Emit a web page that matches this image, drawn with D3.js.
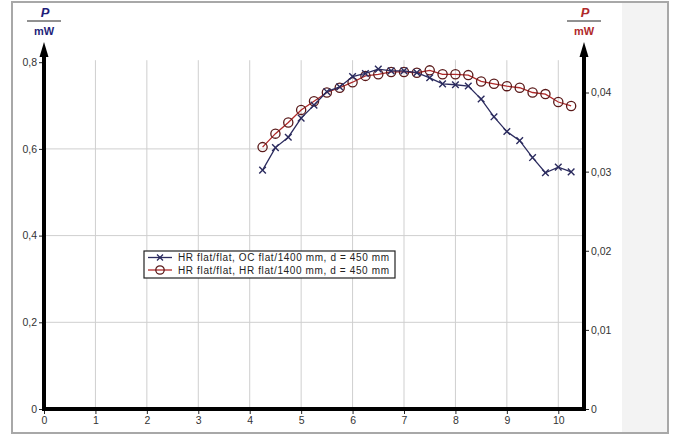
<!DOCTYPE html>
<html>
<head>
<meta charset="utf-8">
<script src="https://cdn.jsdelivr.net/npm/d3@7"></script>
<style>
  html, body { margin: 0; padding: 0; background: #fff; }
  svg { display: block; font-family: "Liberation Sans", Arial, sans-serif; }
</style>
</head>
<body>
<svg id="chart" width="674" height="437"></svg>
<script>
// Distance axis (x) and the two power readings
const xTicks = [0, 1, 2, 3, 4, 5, 6, 7, 8, 9, 10];
const leftTicks = [0, 0.2, 0.4, 0.6, 0.8];
const rightTicks = [0, 0.01, 0.02, 0.03, 0.04];

const positions = [4.25, 4.5, 4.75, 5.0, 5.25, 5.5, 5.75, 6.0, 6.25, 6.5, 6.75, 7.0, 7.25,
                   7.5, 7.75, 8.0, 8.25, 8.5, 8.75, 9.0, 9.25, 9.5, 9.75, 10.0, 10.25];

// HR flat/flat, OC flat/1400 mm (left axis, mW)
const powerOC = [0.551, 0.603, 0.627, 0.671, 0.701, 0.732, 0.743, 0.767, 0.774, 0.784, 0.780, 0.780, 0.776,
                 0.764, 0.750, 0.748, 0.745, 0.715, 0.674, 0.640, 0.619, 0.580, 0.545, 0.558, 0.547];

// HR flat/flat, HR flat/1400 mm (right axis, mW)
const powerHR = [0.0331, 0.0348, 0.0362, 0.0378, 0.0389, 0.0400, 0.0406, 0.0413, 0.0421, 0.0423, 0.0426, 0.0426, 0.0425,
                 0.0428, 0.0423, 0.0423, 0.0422, 0.0414, 0.0411, 0.0408, 0.0406, 0.0400, 0.0398, 0.0388, 0.0383];

const legendLabels = ["HR flat/flat, OC flat/1400 mm, d = 450 mm",
                      "HR flat/flat, HR flat/1400 mm, d = 450 mm"];

const svg = d3.select("#chart");

const blue = "#1f1f7a", red = "#b02a2a";
const crossColor = "#2b2b5e", circleStroke = "#5a1a1a";

// frame and side panel
svg.append("rect").attr("x", 622).attr("y", 2).attr("width", 45).attr("height", 431).attr("fill", "#f3f3f3");
svg.append("rect").attr("x", 12).attr("y", 2).attr("width", 656).attr("height", 431)
  .attr("fill", "none").attr("stroke", "#a8a8a8").attr("stroke-width", 2);

const x = d3.scaleLinear().domain([0, 10.5]).range([44, 584]);
const yL = d3.scaleLinear().domain([0, 0.8]).range([409, 62.2]);
const yR = d3.scaleLinear().domain([0, 0.04383]).range([409, 62.2]);

const fmt = d => d === 0 ? "0" : String(d).replace(".", ",");

// grid
const grid = svg.append("g").attr("stroke", "#cfcfcf").attr("stroke-width", 1);
grid.selectAll("line.v").data(xTicks.filter(d => d > 0)).join("line")
  .attr("x1", d => x(d)).attr("x2", d => x(d)).attr("y1", yL(0.8) - 2).attr("y2", yL(0));
grid.selectAll("line.h").data(leftTicks.filter(d => d > 0 && d < 0.8)).join("line")
  .attr("x1", x(0)).attr("x2", x(10.5)).attr("y1", d => yL(d)).attr("y2", d => yL(d));

// axes
const axisStyle = g => {
  g.select(".domain").remove();
  g.selectAll(".tick line").attr("stroke", "#222").attr("stroke-width", 1);
  g.selectAll(".tick text").attr("fill", "#333").style("font-size", "10.5px")
    .style("font-family", "'Liberation Sans', Arial, sans-serif");
};
svg.append("g").attr("transform", `translate(0,${yL(0)})`)
  .call(d3.axisBottom(x).tickValues(xTicks).tickFormat(fmt).tickSize(5).tickPadding(3))
  .call(axisStyle);
svg.append("g").attr("transform", `translate(${x(0)},0)`)
  .call(d3.axisLeft(yL).tickValues(leftTicks).tickFormat(fmt).tickSize(5).tickPadding(2))
  .call(axisStyle);
svg.append("g").attr("transform", `translate(${x(10.5)},0)`)
  .call(d3.axisRight(yR).tickValues(rightTicks).tickFormat(fmt).tickSize(5).tickPadding(2))
  .call(axisStyle);

// heavy axis lines with arrows
svg.append("path")
  .attr("d", `M${x(0)},55 V${yL(0)} H${x(10.5)} V55`)
  .attr("fill", "none").attr("stroke", "#000").attr("stroke-width", 4).attr("stroke-linejoin", "miter");
[x(0), x(10.5)].forEach(cx => {
  svg.append("path").attr("d", `M${cx},42 L${cx - 4.5},57 L${cx + 4.5},57 Z`).attr("fill", "#000");
});

// unit labels
function unitLabel(cx, color) {
  const g = svg.append("g").attr("fill", color)
    .style("font-family", "'Liberation Sans', Arial, sans-serif").style("font-weight", "bold");
  g.append("text").attr("x", cx + 1).attr("y", 17).attr("text-anchor", "middle")
    .style("font-style", "italic").style("font-size", "13px").text("P");
  g.append("line").attr("x1", cx - 17).attr("x2", cx + 17).attr("y1", 21).attr("y2", 21)
    .attr("stroke", "#222").attr("stroke-width", 1);
  g.append("text").attr("x", cx).attr("y", 35).attr("text-anchor", "middle")
    .style("font-size", "11px").text("mW");
}
unitLabel(x(0), blue);
unitLabel(x(10.5), red);

// series
const ptsOC = positions.map((p, i) => [p, powerOC[i]]);
const ptsHR = positions.map((p, i) => [p, powerHR[i]]);

svg.append("path").datum(ptsHR)
  .attr("d", d3.line().x(d => x(d[0])).y(d => yR(d[1])))
  .attr("fill", "none").attr("stroke", red).attr("stroke-width", 1.3);
svg.append("g").selectAll("circle").data(ptsHR).join("circle")
  .attr("cx", d => x(d[0])).attr("cy", d => yR(d[1])).attr("r", 4.6)
  .attr("fill", "none").attr("stroke", circleStroke).attr("stroke-width", 1.3);

svg.append("path").datum(ptsOC)
  .attr("d", d3.line().x(d => x(d[0])).y(d => yL(d[1])))
  .attr("fill", "none").attr("stroke", crossColor).attr("stroke-width", 1.3);
const crossPath = (cx, cy, s) => `M${cx - s},${cy - s}L${cx + s},${cy + s}M${cx - s},${cy + s}L${cx + s},${cy - s}`;
svg.append("g").selectAll("path").data(ptsOC).join("path")
  .attr("d", d => crossPath(x(d[0]), yL(d[1]), 3.3))
  .attr("stroke", crossColor).attr("stroke-width", 1.4);

// legend
const lg = svg.append("g");
lg.append("rect").attr("x", 144).attr("y", 251).attr("width", 251).attr("height", 27)
  .attr("fill", "#fff").attr("stroke", "#222").attr("stroke-width", 1.2);
const rows = [257.5, 270];
lg.append("line").attr("x1", 148).attr("x2", 172).attr("y1", rows[0]).attr("y2", rows[0])
  .attr("stroke", crossColor).attr("stroke-width", 1.3);
lg.append("path").attr("d", crossPath(160, rows[0], 3)).attr("stroke", crossColor).attr("stroke-width", 1.3);
lg.append("line").attr("x1", 148).attr("x2", 172).attr("y1", rows[1]).attr("y2", rows[1])
  .attr("stroke", red).attr("stroke-width", 1.3);
lg.append("circle").attr("cx", 160).attr("cy", rows[1]).attr("r", 4.2)
  .attr("fill", "none").attr("stroke", circleStroke).attr("stroke-width", 1.3);
lg.selectAll("text").data(legendLabels).join("text")
  .attr("x", 178).attr("y", (d, i) => rows[i] + 3.5)
  .attr("fill", "#222").style("font-size", "10px")
  .attr("textLength", 211).attr("lengthAdjust", "spacing")
  .text(d => d);
</script>
</body>
</html>
